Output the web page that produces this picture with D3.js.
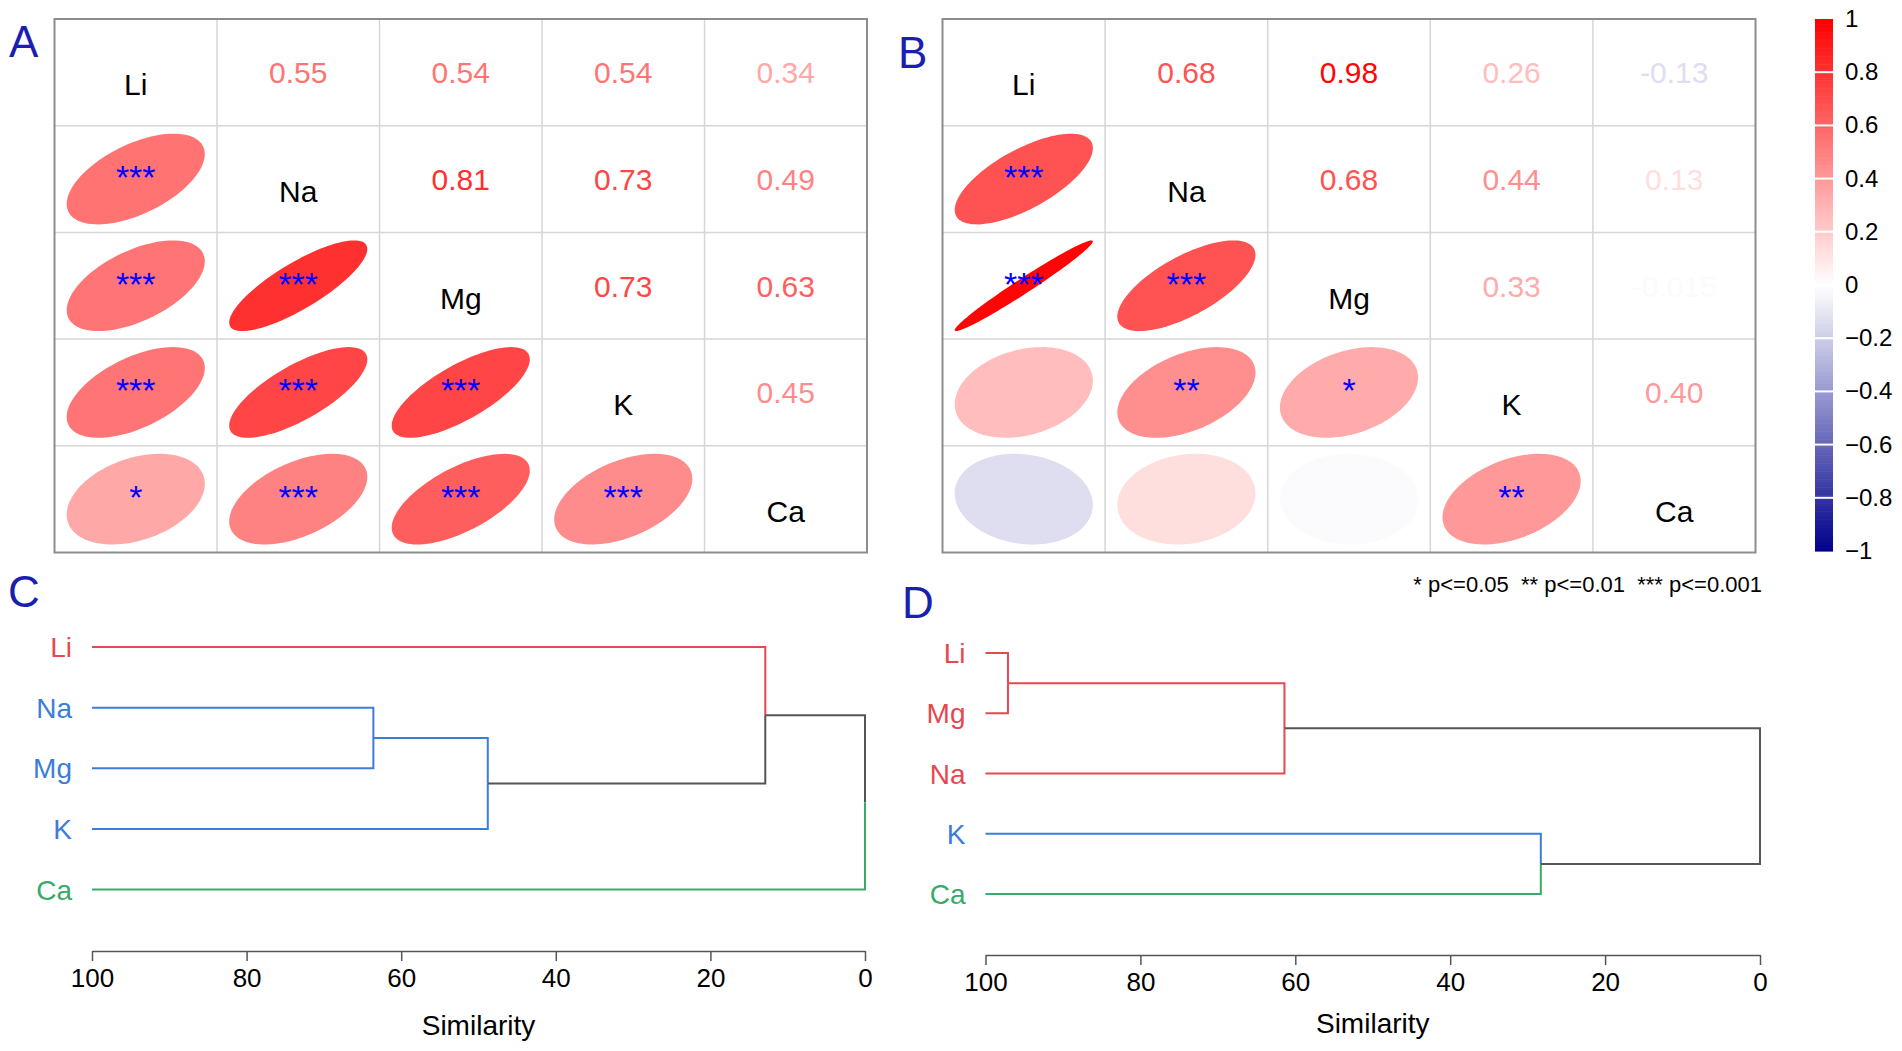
<!DOCTYPE html>
<html>
  <head>
    <meta charset="utf-8">
    <title>Correlation and clustering</title>
    <script src="https://cdn.jsdelivr.net/npm/d3@7"></script>
    <style>
      body { margin: 0; background: #fff; }
      text { font-family: "Liberation Sans", Arial, sans-serif; }
    </style>
  </head>
  <body>
    <script>
    var w = 1902;
    var h = 1051;

    // correlation matrices (row/col order = elements)
    var elements = ["Li", "Na", "Mg", "K", "Ca"];

    var corrA = [
      [1,    0.55, 0.54, 0.54, 0.34],
      [0.55, 1,    0.81, 0.73, 0.49],
      [0.54, 0.81, 1,    0.73, 0.63],
      [0.54, 0.73, 0.73, 1,    0.45],
      [0.34, 0.49, 0.63, 0.45, 1]
    ];
    // significance stars, lower triangle, by row
    var sigA = [
      [],
      ["***"],
      ["***", "***"],
      ["***", "***", "***"],
      ["*", "***", "***", "***"]
    ];

    var corrB = [
      [1,     0.68, 0.98,   0.26,   -0.13],
      [0.68,  1,    0.68,   0.44,   0.13],
      [0.98,  0.68, 1,      0.33,   -0.015],
      [0.26,  0.44, 0.33,   1,      0.40],
      [-0.13, 0.13, -0.015, 0.40,   1]
    ];
    var sigB = [
      [],
      ["***"],
      ["***", "***"],
      ["", "**", "*"],
      ["", "", "", "**"]
    ];

    var barValues = [1, 0.8, 0.6, 0.4, 0.2, 0, -0.2, -0.4, -0.6, -0.8, -1];
    var barLabels = ["1", "0.8", "0.6", "0.4", "0.2", "0", "\u22120.2", "\u22120.4", "\u22120.6", "\u22120.8", "\u22121"];
    var sigLegend = "* p<=0.05  ** p<=0.01  *** p<=0.001";

    // dendrograms: leaves in plotted order, cluster id per leaf,
    // merges (negative = leaf position, positive = earlier merge), similarity heights
    var leavesC = ["Li", "Na", "Mg", "K", "Ca"];
    var clusterC = [1, 2, 2, 2, 3];
    var mergeC = [[-2, -3], [1, -4], [-1, 2], [3, -5]];
    var heightC = [63.6, 48.8, 12.9, 0];

    var leavesD = ["Li", "Mg", "Na", "K", "Ca"];
    var clusterD = [1, 1, 1, 2, 3];
    var mergeD = [[-1, -2], [1, -3], [-4, -5], [2, 3]];
    var heightD = [97.1, 61.4, 28.3, 0];

    var simTicks = [100, 80, 60, 40, 20, 0];

    var clusterCol = {1: "#E8474F", 2: "#3B7DD8", 3: "#3AAA6A"};
    var linkCol = "#555555";
    var panelCol = "#1B1FB0";

    var color = d3.scaleLinear().domain([-1, 0, 1]).range(["#00008B", "#FFFFFF", "#FF0000"]);

    var svg = d3.select("body").append("svg")
      .attr("width", w).attr("height", h);
    svg.append("rect").attr("width", w).attr("height", h).attr("fill", "#fff");

    function fmt(v){
      return Math.abs(v) < 0.1 ? String(v) : v.toFixed(2);
    }

    function corrPanel(mat, sig, x0, x1, y0, y1){
      var g = svg.append("g");
      var x = d3.scaleBand().domain(elements).range([x0, x1]);
      var y = d3.scaleBand().domain(elements).range([y0, y1]);
      var bw = x.bandwidth(), bh = y.bandwidth();

      // grid
      g.selectAll("line.v").data(elements.slice(1)).enter().append("line")
        .attr("x1", function(d){ return x(d) }).attr("x2", function(d){ return x(d) })
        .attr("y1", y0).attr("y2", y1)
        .attr("stroke", "#D6D6D6").attr("stroke-width", 1.5);
      g.selectAll("line.h").data(elements.slice(1)).enter().append("line")
        .attr("y1", function(d){ return y(d) }).attr("y2", function(d){ return y(d) })
        .attr("x1", x0).attr("x2", x1)
        .attr("stroke", "#D6D6D6").attr("stroke-width", 1.5);

      var cells = [];
      mat.forEach(function(row, i){
        row.forEach(function(v, j){
          cells.push({i: i, j: j, v: v, s: i > j ? sig[i][j] : ""});
        });
      });

      // lower triangle: ellipses
      var lower = cells.filter(function(c){ return c.i > c.j });
      var ks = d3.range(0, 101).map(function(k){ return k / 100 * 2 * Math.PI });
      g.selectAll("path.ell").data(lower).enter().append("path")
        .attr("d", function(c){
          var a = Math.acos(c.v);
          var cx = x(elements[c.j]) + bw / 2, cy = y(elements[c.i]) + bh / 2;
          var pts = ks.map(function(k){
            return [cx + 0.85 * bw * Math.cos(k + a / 2) / 2,
                    cy - 0.85 * bh * Math.cos(k - a / 2) / 2];
          });
          return d3.line()(pts) + "Z";
        })
        .attr("fill", function(c){ return color(c.v) });

      g.selectAll("text.sig").data(lower).enter().append("text")
        .text(function(c){ return c.s })
        .attr("x", function(c){ return x(elements[c.j]) + bw / 2 })
        .attr("y", function(c){ return y(elements[c.i]) + bh / 2 + 10 })
        .attr("text-anchor", "middle")
        .attr("font-size", 34)
        .attr("fill", "#0000FF");

      // upper triangle: numbers
      var upper = cells.filter(function(c){ return c.i < c.j });
      g.selectAll("text.num").data(upper).enter().append("text")
        .text(function(c){ return fmt(c.v) })
        .attr("x", function(c){ return x(elements[c.j]) + bw / 2 })
        .attr("y", function(c){ return y(elements[c.i]) + bh / 2 + 11 })
        .attr("text-anchor", "middle")
        .attr("font-size", 30)
        .attr("fill", function(c){ return color(c.v) });

      // diagonal labels
      g.selectAll("text.lab").data(elements).enter().append("text")
        .text(function(d){ return d })
        .attr("x", function(d){ return x(d) + bw / 2 })
        .attr("y", function(d){ return y(d) + bh / 2 + 23 })
        .attr("text-anchor", "middle")
        .attr("font-size", 30)
        .attr("fill", "#000");

      g.append("rect")
        .attr("x", x0).attr("y", y0).attr("width", x1 - x0).attr("height", y1 - y0)
        .attr("fill", "none").attr("stroke", "#8C8C8C").attr("stroke-width", 2);
    }

    corrPanel(corrA, sigA, 54.5, 867, 19, 552.5);
    corrPanel(corrB, sigB, 942.5, 1755.5, 19, 552.5);

    // colour bar
    var by = d3.scaleLinear().domain([1, -1]).range([19, 551]);
    var steps = d3.range(-1, 1, 0.01);
    var bar = svg.append("g");
    bar.selectAll("rect").data(steps).enter().append("rect")
      .attr("x", 1815).attr("width", 18)
      .attr("y", function(d){ return by(d + 0.01) })
      .attr("height", function(d){ return by(d) - by(d + 0.01) + 0.6 })
      .attr("fill", function(d){ return color(d + 0.005) });
    bar.selectAll("line").data(barValues.slice(1, -1)).enter().append("line")
      .attr("x1", 1815).attr("x2", 1833)
      .attr("y1", function(d){ return by(d) }).attr("y2", function(d){ return by(d) })
      .attr("stroke", "#fff").attr("stroke-width", 2);
    bar.selectAll("text").data(barValues).enter().append("text")
      .text(function(d, i){ return barLabels[i] })
      .attr("x", 1845)
      .attr("y", function(d){ return by(d) + 8 })
      .attr("font-size", 24)
      .attr("fill", "#000");

    svg.append("text")
      .text(sigLegend)
      .attr("x", 1762).attr("y", 592)
      .attr("text-anchor", "end")
      .attr("font-size", 22)
      .style("white-space", "pre")
      .attr("fill", "#000");

    // dendrograms
    function dendro(leaves, clusters, merge, heights, x0, x1, yTop, yBot, axisY, titleDy){
      var g = svg.append("g");
      var x = d3.scaleLinear().domain([100, 0]).range([x0, x1]);
      var y = d3.scalePoint().domain(d3.range(leaves.length)).range([yTop, yBot]);

      var leafNodes = leaves.map(function(l, i){
        return {leaf: true, x: x(100), y: y(i), cl: clusters[i], name: l};
      });
      var nodes = [];
      function get(k){ return k < 0 ? leafNodes[-k - 1] : nodes[k - 1] }
      var edges = [];
      merge.forEach(function(m, j){
        var a = get(m[0]), b = get(m[1]);
        var p = {leaf: false, x: x(heights[j]), y: (a.y + b.y) / 2,
                 cl: a.cl === b.cl ? a.cl : null};
        nodes.push(p);
        [a, b].forEach(function(c){
          edges.push({p: p, c: c, col: (c.leaf || p.cl !== null) ? clusterCol[c.cl] : linkCol});
        });
      });

      g.selectAll("path").data(edges).enter().append("path")
        .attr("d", function(e){ return "M" + e.p.x + "," + e.p.y + "V" + e.c.y + "H" + e.c.x })
        .attr("fill", "none")
        .attr("stroke", function(e){ return e.col })
        .attr("stroke-width", 2);

      g.selectAll("text.leaf").data(leafNodes).enter().append("text")
        .text(function(d){ return d.name })
        .attr("x", x0 - 20)
        .attr("y", function(d){ return d.y + 10 })
        .attr("text-anchor", "end")
        .attr("font-size", 28)
        .attr("fill", function(d){ return clusterCol[d.cl] });

      var ax = g.append("g")
        .attr("transform", "translate(0," + axisY + ")")
        .call(d3.axisBottom(x).tickValues(simTicks).tickSize(10).tickSizeOuter(0).tickPadding(8));
      ax.select(".domain").attr("stroke", "#555").attr("stroke-width", 1.5);
      ax.selectAll(".tick line").attr("stroke", "#555").attr("stroke-width", 1.5);
      ax.selectAll(".tick text")
        .attr("font-size", 26)
        .attr("font-family", "'Liberation Sans', Arial, sans-serif")
        .attr("fill", "#000");

      g.append("text")
        .text("Similarity")
        .attr("x", (x0 + x1) / 2)
        .attr("y", axisY + titleDy)
        .attr("text-anchor", "middle")
        .attr("font-size", 28)
        .attr("fill", "#000");
    }

    dendro(leavesC, clusterC, mergeC, heightC, 92, 865, 647, 889.5, 951, 84);
    dendro(leavesD, clusterD, mergeD, heightD, 985.5, 1760, 653, 894, 955, 78);

    // panel letters
    var letters = [["A", 9, 57], ["B", 898, 68], ["C", 8, 607], ["D", 902, 618]];
    svg.selectAll("text.panel").data(letters).enter().append("text")
      .text(function(d){ return d[0] })
      .attr("x", function(d){ return d[1] })
      .attr("y", function(d){ return d[2] })
      .attr("font-size", 44)
      .attr("fill", panelCol);
    </script>
  </body>
</html>
